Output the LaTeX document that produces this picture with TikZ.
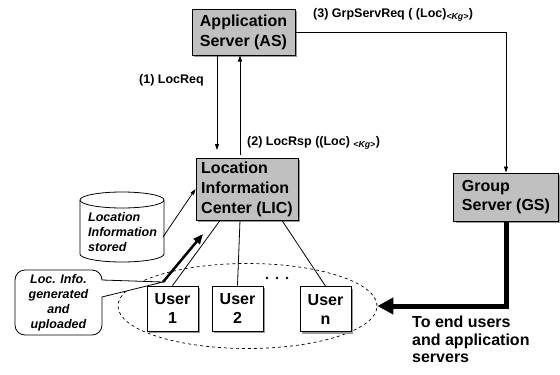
\documentclass[tikz,border=0pt]{standalone}
\usepackage{fontspec}
\setmainfont{Liberation Sans}
\usetikzlibrary{arrows.meta,shadows,calc,shapes.geometric}
\definecolor{boxgray}{RGB}{192,192,192}
\begin{document}
\begin{tikzpicture}[x=1pt,y=-1pt,
  shad/.style={drop shadow={shadow xshift=2pt,shadow yshift=-2pt,fill=black!40,opacity=1}},
  srv/.style={draw,line width=1pt,fill=boxgray,shad,inner sep=0pt,font=\bfseries\fontsize{16}{20}\selectfont},
  usr/.style={draw,line width=0.8pt,fill=white,shad,minimum width=51pt,minimum height=45pt,inner sep=0pt,align=center,font=\bfseries\fontsize{16}{19}\selectfont},
  lbl/.style={inner sep=0pt,font=\bfseries\fontsize{12.5}{15}\selectfont},
  itl/.style={inner sep=0pt,align=left,font=\bfseries\itshape\fontsize{12.5}{15}\selectfont},
  arr/.style={-{Triangle[length=6pt,width=4pt]},line width=0.8pt},
  conn/.style={line width=0.8pt}]
\useasboundingbox (0,0) rectangle (560,375);

% servers
\node[srv,minimum width=103pt,minimum height=46pt,align=center] (as) at (243.5,32) {Application\\Server (AS)};
\node[srv,minimum width=102pt,minimum height=62pt,align=left] (lic) at (247,189) {Location\\Information\\Center (LIC)};
\node[srv,minimum width=105pt,minimum height=48pt,align=left,font=\bfseries\fontsize{16}{19}\selectfont] (gs) at (506,197) {Group\\Server (GS)};

% users
\node[draw,dashed,line width=0.7pt,ellipse,minimum width=259pt,minimum height=85pt] (ell) at (247.5,306) {};
\node[usr] (u1) at (172.5,308.5) {User\\1};
\node[usr] (u2) at (237.5,308.5) {User\\2};
\node[usr] (un) at (325.5,309) {User\\n};
\fill (267,278) circle (1.3pt) (277,278) circle (1.3pt) (287,278) circle (1.3pt);

% cylinder
\draw[line width=0.8pt,fill=white] (80,200) -- (80,254) arc[start angle=180,end angle=360,x radius=42pt,y radius=8pt] -- (164,200);
\draw[line width=0.8pt,fill=white] (122,200) ellipse[x radius=42pt,y radius=8pt];
\node[itl,anchor=north west] (cyl) at (88,212) {Location\\Information\\stored};
\coordinate (cylr) at (163,237);

% callout
\draw[line width=0.8pt,fill=white] (163,282) -- (102,297) [rounded corners=10pt] -- (102,335) -- (15,335) -- (15,270) -- (102,270) [sharp corners] -- (102,280) -- cycle;
\node[itl,align=center] (call) at (58.5,303) {Loc. Info.\\generated\\and\\uploaded};
\coordinate (callp) at (163,282);
\coordinate (thk) at (203,234);

% connectors
\draw[arr] (as.east) -| (gs.north);
\node[lbl,anchor=west] (l3) at (313,15) {(3) GrpServReq ( (Loc)\textsubscript{\itshape <Kg>})};
\draw[arr] (217,0 |- as.south) -- (217,150);
\draw[arr] (240,155) -- (240,0 |- as.south);
\node[lbl,anchor=east] (l1) at (204,80) {(1) LocReq};
\node[lbl,anchor=west] (l2) at (247,143) {(2) LocRsp ((Loc) \textsubscript{\itshape <Kg>})};
\draw[arr] (cylr) -- (lic.west);
\draw[-{Triangle[length=10pt,width=8pt]},line width=2.5pt] (callp) -- (thk);
\draw[conn] (220,0 |- lic.south) -- (u1.north);
\draw[conn] (240,0 |- lic.south) -- (u2.north);
\draw[conn] (282,0 |- lic.south) -- (un.north);
\draw[-{Triangle[length=16pt,width=16pt]},line width=5pt] (gs.south) |- (ell.east);
\node[anchor=north west,inner sep=0pt,align=left,font=\bfseries\fontsize{16}{17.5}\selectfont] (txt) at (412,316) {To end users\\and application\\servers};
\end{tikzpicture}
\end{document}
